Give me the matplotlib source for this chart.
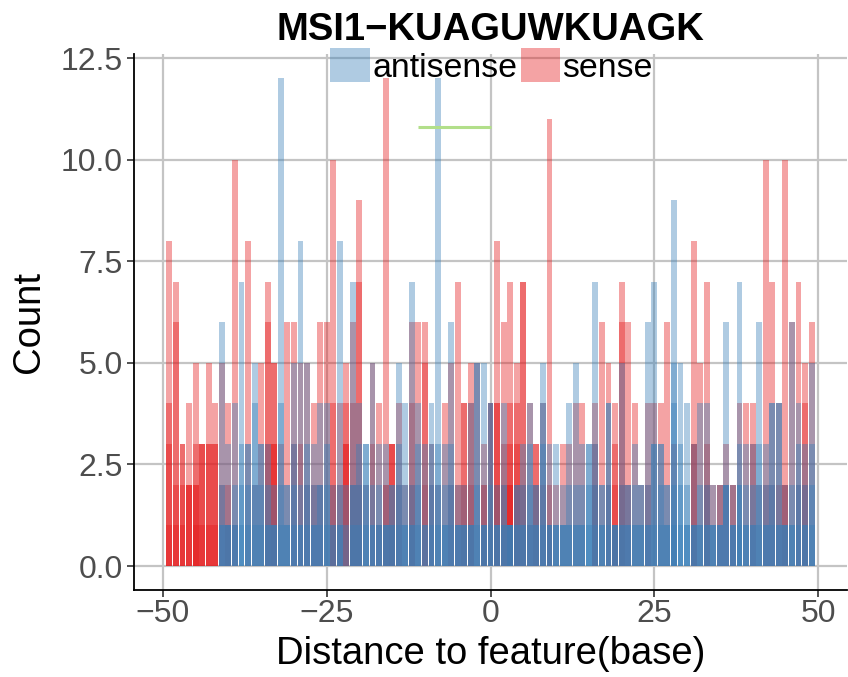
import numpy as np
import matplotlib
matplotlib.use("Agg")
import matplotlib.pyplot as plt
from matplotlib.patches import Patch

plt.rcParams['font.family'] = ['Liberation Sans', 'DejaVu Sans']

# distance positions and overlapping bar heights (one list of bars per position)
positions = list(range(-49, 50))

sense_bars = [
    [8, 4, 3, 1], [7, 6, 2, 1], [3, 3, 2, 1], [4, 2, 2, 2], [5, 3, 2, 2, 1],
    [3, 3, 3, 1], [5, 3, 3, 1], [4, 3, 3, 1], [5, 2], [4, 2, 1],
    [10, 1], [], [8], [2], [5],
    [7, 6, 3], [5, 5, 3, 3], [3], [6], [6, 3],
    [5, 3], [5, 2], [4, 2], [6, 2], [6],
    [10, 4, 2, 1], [4, 2], [5, 4, 3, 3], [6, 4, 2], [9, 7, 2],
    [2], [5, 3], [4, 1], [12, 2, 2], [3, 3, 3, 1],
    [4, 2], [2], [6, 4, 2], [6], [6, 5, 2],
    [3, 2], [2], [4], [5, 2], [7, 2],
    [4, 4, 2], [5, 4, 2], [5], [3, 2, 2], [4, 4],
    [8, 4, 4, 2], [6, 3, 2], [7, 4, 3, 2, 2], [5, 4, 3, 2], [7, 7, 2],
    [4, 1], [3, 3, 2], [4, 2], [11, 2, 1], [2],
    [3], [3], [4], [4], [],
    [4, 3, 2], [6], [5, 2], [4, 3, 2, 1], [7, 6, 2],
    [6, 2], [4], [2], [4, 2], [4],
    [4], [6], [3], [], [],
    [8, 3, 3], [5], [7, 3, 2], [2], [2, 2],
    [3, 2], [2, 2], [4], [4], [4, 3],
    [2], [10, 2], [7, 2], [4, 2], [10, 2, 2],
    [6], [7, 2], [5, 4, 2], [6],
]

antisense_bars = [
    [], [], [], [], [],
    [], [], [], [6, 2, 1, 1], [3, 1, 1, 1],
    [4, 2, 1, 1], [7, 3, 2, 1], [3, 3, 2, 1], [5, 4, 2, 1], [3, 3, 2, 1],
    [3, 2, 1, 1], [2, 1, 1, 1], [12, 4, 2, 1], [2, 2, 1, 1], [5, 3, 2, 1],
    [8, 2, 1, 1], [5, 3, 2, 1], [3, 2, 1, 1], [4, 2, 2, 1], [4, 3, 2, 1],
    [2, 1, 1], [8, 2, 1, 1], [2, 1], [7, 2, 2, 1], [4, 3, 2, 1],
    [3, 3, 2, 1], [5, 2, 1, 1], [3, 2, 1, 1], [3, 1, 1, 1], [2, 2, 1, 1],
    [5, 3, 2, 1], [4, 2, 1, 1], [7, 2, 1, 1], [4, 3, 2, 1], [3, 1, 1],
    [4, 3, 2, 1], [12, 3, 2, 1], [3, 2, 1, 1], [6, 3, 2, 1], [2, 1, 1, 1],
    [2, 1, 1, 1], [4, 1, 1, 1], [5, 5, 2, 1], [5, 1, 1, 1], [4, 4, 2, 1],
    [2, 1, 1, 1], [4, 2, 1, 1], [1, 1, 1, 1, 1], [2, 2, 1, 1], [3, 2, 1, 1],
    [4, 3, 2, 1], [2, 2, 1, 1], [5, 4, 3, 1], [3, 1, 1, 1], [3, 1, 1, 1],
    [2, 1, 1, 1], [4, 2, 1, 1], [5, 2, 1, 1], [3, 2, 1, 1], [3, 3, 2, 1],
    [7, 3, 2, 1], [2, 2, 1, 1], [4, 4, 2, 1], [1, 1, 1, 1], [5, 2, 1, 1],
    [2, 2, 1, 1], [3, 2, 1, 1], [2, 2, 1, 1], [6, 2, 1, 1], [7, 3, 3, 1],
    [3, 3, 2, 1], [2, 2, 1, 1], [9, 5, 4, 2, 1], [5, 3, 2, 1], [4, 2, 1, 1],
    [3, 1, 1, 1], [4, 2, 1, 1], [4, 2, 1, 1], [2, 1, 1, 1], [2, 1, 1, 1],
    [6, 2, 2, 2], [2, 1, 1, 1], [7, 3, 2, 2, 1], [3, 2, 1, 1], [3, 2, 1, 1],
    [6, 3, 2, 1], [3, 2, 1, 1], [4, 4, 2, 1], [4, 4, 1, 1], [2, 1, 1, 1],
    [6, 2, 1, 1], [4, 3, 2, 1], [3, 2, 1, 1], [5, 3, 2, 1],
]

# feature segment
feature_start, feature_end, feature_level = -11, 0, 10.8

title = "MSI1\u2212KUAGUWKUAGK"
blue = "#377EB8"
red = "#E41A1C"


def flatten_bars(pos, bars):
    xs, hs = [], []
    for p, layers in zip(pos, bars):
        for h in layers:
            xs.append(p)
            hs.append(h)
    return xs, hs


W, H = 848, 677
fig = plt.figure(figsize=(W / 100, H / 100), dpi=100)
left, right, top, bottom = 134, 847, 54, 590.4
ax = fig.add_axes([left / W, 1 - bottom / H, (right - left) / W, (bottom - top) / H])

sx, sh = flatten_bars(positions, sense_bars)
axx, ah = flatten_bars(positions, antisense_bars)
ax.bar(sx, sh, width=0.9, color=red, alpha=0.4, linewidth=0, zorder=2)
ax.bar(axx, ah, width=0.9, color=blue, alpha=0.4, linewidth=0, zorder=2)

ax.plot([feature_start, feature_end], [feature_level, feature_level],
        color="#B2DF8A", lw=2.2, solid_capstyle="butt", zorder=3)

ax.set_xlim(-54.4, 54.4)
ax.set_ylim(-0.6, 12.6)
ax.set_xticks([-50, -25, 0, 25, 50])
ax.set_yticks([0, 2.5, 5, 7.5, 10, 12.5])
ax.set_yticklabels(["0.0", "2.5", "5.0", "7.5", "10.0", "12.5"])
ax.grid(True, color="#C4C4C4", lw=1.6, zorder=0)
ax.set_axisbelow(True)
for s in ["top", "right"]:
    ax.spines[s].set_visible(False)
for s in ["left", "bottom"]:
    ax.spines[s].set_linewidth(1.3)
    ax.spines[s].set_color("black")
ax.tick_params(axis="both", labelsize=23, colors="#4D4D4D", length=5, width=1.2, pad=3)
ax.tick_params(axis="x", pad=1)
ax.tick_params(axis="both", color="#333333")

ax.set_xlabel("Distance to feature(base)", fontsize=27.5, labelpad=5)
ax.set_ylabel("Count", fontsize=27.5, labelpad=10)

fig.text(490.5 / W, 1 - 30 / H, title, ha="center", va="center",
         fontsize=27.5, fontweight="bold")

handles = [Patch(facecolor=blue, alpha=0.4, edgecolor="none"),
           Patch(facecolor=red, alpha=0.4, edgecolor="none")]
fig.legend(handles, ["antisense", "sense"], loc="center",
           bbox_to_anchor=(491.5 / W, 1 - 66 / H), ncol=2, frameon=False,
           fontsize=24.4, handlelength=1.18, handleheight=1.18,
           handletextpad=0.05, columnspacing=0.1)

fig.savefig("out.png", dpi=100)
